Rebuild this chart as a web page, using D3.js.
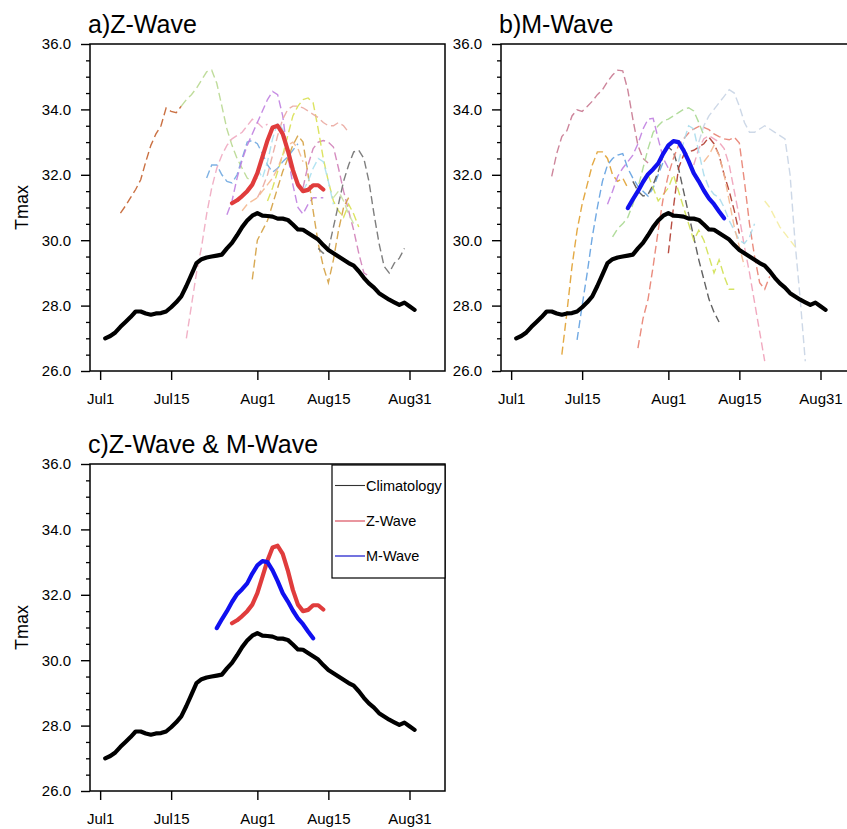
<!DOCTYPE html>
<html><head><meta charset="utf-8">
<script src="https://cdn.jsdelivr.net/npm/d3@7"></script>
<style>
body{margin:0;background:#fff}
text{font-family:"Liberation Sans",Arial,Helvetica,sans-serif;fill:#000}
</style>
</head><body>
<svg id="chart" width="847" height="829"></svg>
<script>
// ---------------- DATA ----------------
const xTickDays = [0, 14, 31, 45, 61];
const xTickLabels = ["Jul1", "Jul15", "Aug1", "Aug15", "Aug31"];
const yTicks = [26, 28, 30, 32, 34, 36];
const panelTitles = ["a)Z-Wave", "b)M-Wave", "c)Z-Wave & M-Wave"];
const yLabel = "Tmax";
const legendLabels = ["Climatology", "Z-Wave", "M-Wave"];

// climatology, day index 1..62 (Jul1 = 0)
const climStart = 1;
const climValues = [27.0,27.07,27.18,27.35,27.5,27.65,27.82,27.82,27.76,27.72,
  27.76,27.77,27.82,27.95,28.1,28.28,28.6,28.95,29.3,29.42,
  29.47,29.5,29.53,29.56,29.75,29.92,30.15,30.4,30.6,30.75,
  30.83,30.75,30.74,30.72,30.66,30.66,30.62,30.48,30.33,30.32,
  30.22,30.12,30.02,29.85,29.7,29.6,29.5,29.4,29.3,29.22,
  29.05,28.85,28.68,28.55,28.38,28.28,28.18,28.1,28.02,28.09,
  27.98,27.87];

// composites
const zWaveStart = 26;
const zWaveValues = [31.13,31.22,31.35,31.5,31.7,32.05,32.55,33.05,33.45,33.5,
  33.25,32.75,32.15,31.7,31.5,31.54,31.68,31.68,31.55];
const mWaveStart = 23;
const mWaveValues = [30.98,31.25,31.5,31.78,32.02,32.17,32.35,32.65,32.9,33.03,
  33.0,32.75,32.42,32.05,31.8,31.52,31.28,31.1,30.88,30.67];

// individual Z-Wave events
const zEventStarts = [4, 16, 17, 21, 25, 40, 30, 33, 31, 43, 31, 28, 46];
const zEventValues = [
  [30.83,31.05,31.3,31.55,31.85,32.4,32.9,33.25,33.5,34.04,33.94,33.9,34.1],
  [34.1,34.3,34.45,34.65,34.9,35.15,35.2,34.8,34.1,33.4,32.9,32.5,32.2,31.9,31.8,31.9],
  [27.0,28.0,29.0,29.8,30.8,31.6,32.2,32.6,32.9,33.1,33.2,33.3,33.5,33.7,33.6,33.45,33.55],
  [31.9,32.3,32.3,32.0,31.8,31.75,32.0,32.5,33.0,33.05,32.95,32.65,32.3,32.08,32.2,32.4,32.55,32.75,32.95],
  [30.78,31.2,31.9,32.45,32.9,33.25,33.6,33.95,34.3,34.55,34.45,33.8,32.6,31.7,31.0,30.8,31.1,31.3,31.3,31.3],
  [31.6,32.3,32.8,33.0,33.05,33.0,32.85,32.2,31.5,30.9,30.3,29.6,29.0,28.9],
  [28.8,30.0,30.3,30.6,31.1,31.6,32.1,32.5,32.9,33.2,33.0,32.0,30.9,29.9,29.2,28.7,29.4,30.3,31.0,31.3],
  [31.2,31.6,32.1,32.6,33.2,33.8,34.1,34.3,34.35,34.2,33.4,32.5,31.8,31.2,30.9,30.7,31.1,30.8,30.4],
  [31.3,31.6,32.0,32.6,33.2,33.7,34.0,34.1,34.1,34.05,33.95,33.85,33.75,33.6,33.5,33.5,33.6,33.5,33.3],
  [29.75,29.6,29.7,30.4,31.1,31.8,32.3,32.7,32.75,32.5,31.8,30.8,29.9,29.2,29.0,29.3,29.45,29.75],
  [32.2,31.9,32.4,33.1,33.6,33.4,32.7,32.0,31.6,31.5,31.8,32.2,32.5,32.4,31.8,31.1],
  [30.9,31.1,31.2,31.3,31.5,31.7,31.9,32.2,32.6,32.9,33.0,32.8,32.4],
  [31.3,31.5,31.2,30.8,30.5]
];

// individual M-Wave events
const mEventStarts = [8, 10, 13, 19, 24, 20, 27, 31, 25, 36, 37, 33, 50, 38];
const mEventValues = [
  [31.95,32.66,33.17,33.35,33.8,33.99,33.94,34.09,34.25,34.45,34.6,34.85,35.05,35.2,35.18,34.6,33.7,32.9,32.5,32.36],
  [26.5,27.8,29.2,30.3,31.1,31.7,32.3,32.7,32.7,32.5,32.0,31.8,31.9,31.6],
  [26.95,28.0,29.0,30.1,31.0,31.8,32.3,32.5,32.6,32.65,32.2,31.9,31.65,31.5,31.35,31.6,32.0,32.4],
  [31.1,31.5,31.95,32.2,32.4,32.6,32.95,33.4,33.7,33.73,33.1,32.5,32.2],
  [31.8,31.5,31.35,31.4,31.7,32.1,32.6,32.85,32.7,32.2,31.5,30.8,30.1,29.4,28.8,28.2,27.8,27.5],
  [30.1,30.35,30.5,30.7,31.1,31.6,32.2,32.8,33.3,33.5,33.65,33.7,33.8,33.9,34.0,34.05,33.95,33.6,33.2],
  [32.0,31.6,31.2,31.4,31.6,32.0,31.5,31.0,30.5,30.0,30.3,30.0,29.5,29.0,29.4,28.9,28.5,28.5],
  [29.6,31.0,32.2,32.6,32.7,32.75,32.85,32.95,33.15,32.95,32.6,32.0,31.5,30.9,30.2],
  [26.7,27.6,28.2,29.2,30.3,31.3,32.0,32.5,32.9,33.1,33.28,33.4,33.48,33.45,33.38,33.25,33.17,33.1,33.07,33.15,32.97,31.8,30.5,29.5,28.7,28.5,28.9],
  [32.3,32.8,33.1,33.2,33.1,33.0,32.8,32.3,31.5,30.7,29.8,29.0,28.1,27.2,26.3],
  [33.0,33.5,33.8,34.0,34.2,34.4,34.6,34.5,34.1,33.6,33.3,33.3,33.4,33.5,33.4,33.3,33.2,33.1,32.0,29.9,28.2,26.3],
  [32.4,33.0,33.5,33.4,32.7,32.0,31.6,31.4,31.3,31.0,30.6,30.3,30.0,29.9,30.1,30.5],
  [31.2,31.0,30.7,30.4,30.2,30.0,29.8],
  [32.4,32.6,32.9,32.6,32.0,31.2,30.4,29.8,29.2]
];

// ---------------- STYLES ----------------
const zEventColors = ["#c4602e","#b8d890","#f0a8c0","#70a8e0","#c080e0","#d080b8","#d4a040",
  "#d8e050","#eaa8a0","#707070","#a8e0f0","#f4b890","#c8e0a0"];
const mEventColors = ["#c87890","#e0a030","#60a0e0","#c080e0","#505050","#a8d890","#d0e050",
  "#b03a2e","#e88070","#f0a0b8","#c8d4e4","#a8dcec","#f4eca0","#f4b890"];
const climColor = "#000000", zColor = "#e03c3c", mColor = "#1010f0";

// ---------------- DRAW ----------------
const svg = d3.select("#chart");
const W = 355, H = 327;

function toPoints(start, vals) { return vals.map((v, i) => [start + i, v]); }

function panel(ox, oy, title, events, colors, composites, withLegend, withYLabel) {
  const x = d3.scaleLinear().domain([-2, 68]).range([0, W]);
  const y = d3.scaleLinear().domain([26, 36]).range([H, 0]);
  const g = svg.append("g").attr("transform", `translate(${ox},${oy})`);
  const line = d3.line().x(d => x(d[0])).y(d => y(d[1]));

  const clipId = "clip" + ox + "_" + oy;
  g.append("clipPath").attr("id", clipId).append("rect").attr("width", W).attr("height", H);
  const plot = g.append("g").attr("clip-path", `url(#${clipId})`);

  events.forEach((ev, i) => {
    plot.append("path").attr("d", line(ev)).attr("fill", "none")
      .attr("stroke", colors[i]).attr("stroke-width", 1.4)
      .attr("stroke-opacity", 0.9)
      .attr("stroke-dasharray", "8,4");
  });
  composites.forEach(c => {
    plot.append("path").attr("d", line(c.pts)).attr("fill", "none")
      .attr("stroke", c.color).attr("stroke-width", 4.2)
      .attr("stroke-linejoin", "round").attr("stroke-linecap", "round");
  });

  // minor y ticks
  const minor = d3.range(26, 36.001, 0.5).filter(v => !yTicks.includes(Math.round(v * 10) / 10));
  const ym = g.append("g").call(d3.axisLeft(y).tickValues(minor).tickSize(4).tickFormat(""));
  ym.select(".domain").remove();
  ym.selectAll("line").attr("stroke-width", 1.3);

  const ya = g.append("g").call(d3.axisLeft(y).tickValues(yTicks)
    .tickFormat(d3.format(".1f")).tickSize(9).tickPadding(10));
  ya.select(".domain").remove();
  ya.selectAll("line").attr("stroke-width", 1.4);
  ya.selectAll("text").attr("font-size", 15).attr("fill", "#000");

  const xa = g.append("g").attr("transform", `translate(0,${H})`)
    .call(d3.axisBottom(x).tickValues(xTickDays).tickFormat((d, i) => xTickLabels[i])
      .tickSize(9).tickPadding(13));
  xa.select(".domain").remove();
  xa.selectAll("line").attr("stroke-width", 1.4);
  xa.selectAll("text").attr("font-size", 15).attr("fill", "#000");

  g.append("rect").attr("width", W).attr("height", H).attr("fill", "none")
    .attr("stroke", "#000").attr("stroke-width", 1.5);

  g.append("text").attr("x", -2).attr("y", -11.5).attr("font-size", 25).text(title);
  if (withYLabel) {
    g.append("text").attr("transform", `translate(-62,${H / 2}) rotate(-90)`)
      .attr("text-anchor", "middle").attr("font-size", 18).text(yLabel);
  }

  if (withLegend) {
    const lg = g.append("g");
    lg.append("rect").attr("x", 242).attr("y", 1).attr("width", W - 242).attr("height", 113)
      .attr("fill", "#fff").attr("stroke", "#000").attr("stroke-width", 1.2);
    const lcol = ["#333333", "#d84050", "#5050d8"];
    const lys = [21.5, 57, 92];
    legendLabels.forEach((lab, i) => {
      lg.append("line").attr("x1", 245).attr("x2", 275).attr("y1", lys[i]).attr("y2", lys[i])
        .attr("stroke", lcol[i]).attr("stroke-width", i === 2 ? 1.6 : 1.1);
      lg.append("text").attr("x", 276).attr("y", lys[i]).attr("dy", "0.35em")
        .attr("font-size", 14.5).text(lab);
    });
  }
}

const clim = { pts: toPoints(climStart, climValues), color: climColor };
const zw = { pts: toPoints(zWaveStart, zWaveValues), color: zColor };
const mw = { pts: toPoints(mWaveStart, mWaveValues), color: mColor };

panel(90, 44, panelTitles[0], zEventValues.map((v, i) => toPoints(zEventStarts[i], v)), zEventColors, [clim, zw], false, true);
panel(501, 44, panelTitles[1], mEventValues.map((v, i) => toPoints(mEventStarts[i], v)), mEventColors, [clim, mw], false, false);
panel(90, 464, panelTitles[2], [], [], [clim, zw, mw], true, true);
</script>
</body></html>
